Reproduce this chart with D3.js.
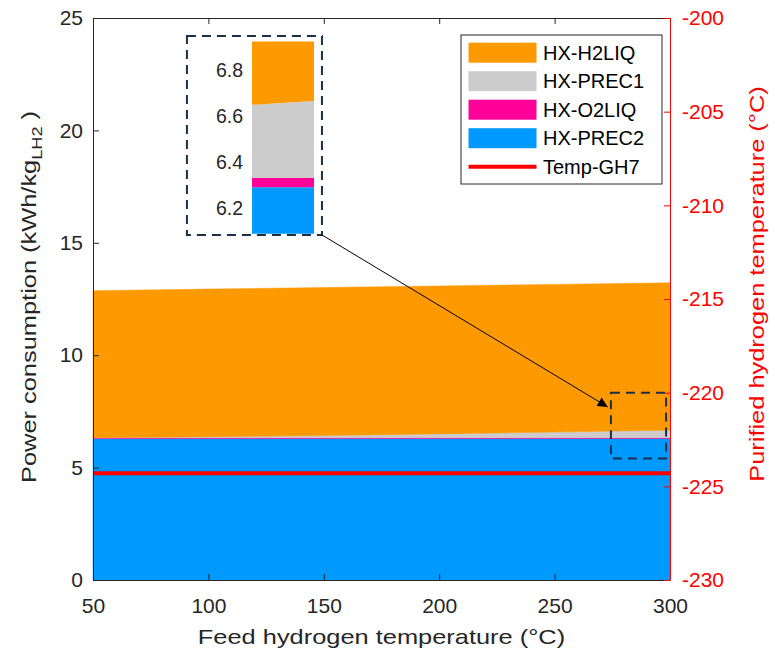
<!DOCTYPE html>
<html>
<head>
<meta charset="utf-8">
<script src="https://cdn.jsdelivr.net/npm/d3@7"></script>
<style>
  html, body { margin: 0; padding: 0; background: #fff; }
  svg { display: block; font-family: "Liberation Sans", Arial, sans-serif; }
</style>
</head>
<body>
<div id="chart"></div>
<script>
// feed hydrogen temperature (°C)
const feedTemp = [50, 100, 150, 200, 250, 300]

// stacked power consumption (kWh/kg LH2), bottom to top
const hxPrec2 = [6.29, 6.29, 6.29, 6.29, 6.29, 6.29]
const hxO2liq = [0.04, 0.04, 0.04, 0.04, 0.04, 0.04]
const hxPrec1 = [0.0, 0.04, 0.1, 0.17, 0.25, 0.335]
const hxH2liq = [6.54, 6.57, 6.58, 6.58, 6.57, 6.555]

// purified hydrogen temperature (°C), right axis
const tempGH7 = [-224.3, -224.3, -224.3, -224.3, -224.3, -224.3]

const seriesKeys = ['HX-PREC2', 'HX-O2LIQ', 'HX-PREC1', 'HX-H2LIQ']
const seriesColors = ['#0099ff', '#ff0099', '#cccccc', '#ff9900']
const legendOrder = ['HX-H2LIQ', 'HX-PREC1', 'HX-O2LIQ', 'HX-PREC2']

const xTicks = [50, 100, 150, 200, 250, 300]
const yTicks = [0, 5, 10, 15, 20, 25]
const yRightTicks = [-230, -225, -220, -215, -210, -205, -200]
const insetTicks = [6.2, 6.4, 6.6, 6.8]

// zoom window (data coords) and inset placement (main data coords)
const zoomBox = { x0: 274.4, x1: 298.3, y0: 5.41, y1: 8.33 }
const insetFrame = { x0: 90.7, x1: 149.2, y0: 15.35, y1: 24.2 }
const insetAxes = { x0: 118.9, x1: 145.8, y0: 15.4, y1: 23.95 }
const insetXDomain = [290, 300]
const insetYDomain = [6.087, 6.923]
const arrowEnd = { x: 273, y: 7.7 }

const width = 775
const height = 655
const margin = { left: 93, right: 105, top: 18, bottom: 75 }
const axisColor = '#262626'
const red = '#ff0000'
const navy = '#1c2e4a'
const tickFont = 21
const titleFont = 21
const titleStretch = 1.21

const rows = feedTemp.map((t, i) => ({
  t,
  'HX-PREC2': hxPrec2[i],
  'HX-O2LIQ': hxO2liq[i],
  'HX-PREC1': hxPrec1[i],
  'HX-H2LIQ': hxH2liq[i],
}))

const stacked = d3.stack().keys(seriesKeys)(rows)

const svg = d3
  .select('#chart')
  .append('svg')
  .attr('width', width)
  .attr('height', height)

const xScale = d3
  .scaleLinear()
  .domain([50, 300])
  .range([margin.left, width - margin.right])

const yScale = d3
  .scaleLinear()
  .domain([0, 25])
  .range([height - margin.bottom, margin.top])

const yRightScale = d3
  .scaleLinear()
  .domain([-230, -200])
  .range([height - margin.bottom, margin.top])

const area = d3
  .area()
  .x(d => xScale(d.data.t))
  .y0(d => yScale(d[0]))
  .y1(d => yScale(d[1]))

svg
  .append('g')
  .selectAll('path')
  .data(stacked)
  .join('path')
  .attr('fill', (d, i) => seriesColors[i])
  .attr('stroke', (d, i) => seriesColors[i])
  .attr('stroke-width', 0.5)
  .attr('d', area)

const tempLine = d3
  .line()
  .x((d, i) => xScale(feedTemp[i]))
  .y(d => yRightScale(d))

svg
  .append('path')
  .datum(tempGH7)
  .attr('fill', 'none')
  .attr('stroke', red)
  .attr('stroke-width', 4)
  .attr('d', tempLine)

// axes
function styleAxis(g, color, fontSize) {
  g.select('.domain').attr('stroke', color).attr('stroke-width', 1)
  g.selectAll('.tick line').attr('stroke', color)
  g.selectAll('.tick text')
    .attr('fill', color)
    .attr('font-size', fontSize)
    .attr('font-family', '"Liberation Sans", Arial, sans-serif')
}

const plainNumber = d => String(d)

svg
  .append('g')
  .attr('transform', `translate(0, ${height - margin.bottom})`)
  .call(d3.axisBottom(xScale).tickValues(xTicks).tickSize(-6).tickPadding(18).tickSizeOuter(0).tickFormat(plainNumber))
  .call(g => styleAxis(g, axisColor, tickFont))

svg
  .append('g')
  .attr('transform', `translate(0, ${margin.top})`)
  .call(d3.axisTop(xScale).tickValues(xTicks).tickSize(-6).tickSizeOuter(0).tickFormat(''))
  .call(g => styleAxis(g, axisColor, tickFont))

svg
  .append('g')
  .attr('transform', `translate(${margin.left}, 0)`)
  .call(d3.axisLeft(yScale).tickValues(yTicks).tickSize(-6).tickPadding(10).tickSizeOuter(0).tickFormat(plainNumber))
  .call(g => styleAxis(g, axisColor, tickFont))

svg
  .append('g')
  .attr('transform', `translate(${width - margin.right}, 0)`)
  .call(d3.axisRight(yRightScale).tickValues(yRightTicks).tickSize(-6).tickPadding(12).tickSizeOuter(0).tickFormat(plainNumber))
  .call(g => styleAxis(g, red, tickFont))

// axis titles
svg
  .append('text')
  .attr('transform', `translate(${(margin.left + width - margin.right) / 2}, ${height - 11}) scale(${titleStretch}, 1)`)
  .attr('text-anchor', 'middle')
  .attr('font-size', titleFont)
  .attr('fill', axisColor)
  .text('Feed hydrogen temperature (°C)')

const leftTitle = svg
  .append('text')
  .attr('transform', `translate(36, ${(margin.top + height - margin.bottom) / 2 - 2}) rotate(-90) scale(${titleStretch}, 1)`)
  .attr('text-anchor', 'middle')
  .attr('font-size', titleFont)
  .attr('fill', axisColor)

leftTitle.append('tspan').text('Power consumption (kWh/kg')
leftTitle.append('tspan').attr('dy', 6).attr('font-size', 15).text('LH2')
leftTitle.append('tspan').attr('dy', -6).text(' )')

svg
  .append('text')
  .attr('transform', `translate(764, ${(margin.top + height - margin.bottom) / 2 - 15}) rotate(-90) scale(${titleStretch}, 1)`)
  .attr('text-anchor', 'middle')
  .attr('font-size', titleFont)
  .attr('fill', red)
  .text('Purified hydrogen temperature (°C)')

// zoom window on the main plot
svg
  .append('rect')
  .attr('x', xScale(zoomBox.x0))
  .attr('y', yScale(zoomBox.y1))
  .attr('width', xScale(zoomBox.x1) - xScale(zoomBox.x0))
  .attr('height', yScale(zoomBox.y0) - yScale(zoomBox.y1))
  .attr('fill', 'none')
  .attr('stroke', navy)
  .attr('stroke-width', 2)
  .attr('stroke-dasharray', '9 6')

// inset frame
svg
  .append('rect')
  .attr('x', xScale(insetFrame.x0))
  .attr('y', yScale(insetFrame.y1))
  .attr('width', xScale(insetFrame.x1) - xScale(insetFrame.x0))
  .attr('height', yScale(insetFrame.y0) - yScale(insetFrame.y1))
  .attr('fill', '#fff')
  .attr('stroke', navy)
  .attr('stroke-width', 2)
  .attr('stroke-dasharray', '9 6')

// arrow
const defs = svg.append('defs')
defs
  .append('marker')
  .attr('id', 'arrowhead')
  .attr('viewBox', '0 0 10 10')
  .attr('refX', 10)
  .attr('refY', 5)
  .attr('markerWidth', 12)
  .attr('markerHeight', 10)
  .attr('markerUnits', 'userSpaceOnUse')
  .attr('orient', 'auto')
  .append('path')
  .attr('d', 'M0,0 L10,5 L0,10 Z')
  .attr('fill', '#000')

svg
  .append('line')
  .attr('x1', xScale(insetFrame.x1))
  .attr('y1', yScale(insetFrame.y0))
  .attr('x2', xScale(arrowEnd.x))
  .attr('y2', yScale(arrowEnd.y))
  .attr('stroke', '#000')
  .attr('stroke-width', 1)
  .attr('marker-end', 'url(#arrowhead)')

// inset axes
const insetX = d3
  .scaleLinear()
  .domain(insetXDomain)
  .range([xScale(insetAxes.x0), xScale(insetAxes.x1)])

const insetY = d3
  .scaleLinear()
  .domain(insetYDomain)
  .range([yScale(insetAxes.y0), yScale(insetAxes.y1)])

defs
  .append('clipPath')
  .attr('id', 'inset-clip')
  .append('rect')
  .attr('x', insetX.range()[0])
  .attr('y', insetY.range()[1])
  .attr('width', insetX.range()[1] - insetX.range()[0])
  .attr('height', insetY.range()[0] - insetY.range()[1])

const insetArea = d3
  .area()
  .x(d => insetX(d.data.t))
  .y0(d => insetY(d[0]))
  .y1(d => insetY(d[1]))

svg
  .append('g')
  .attr('clip-path', 'url(#inset-clip)')
  .selectAll('path')
  .data(stacked)
  .join('path')
  .attr('fill', (d, i) => seriesColors[i])
  .attr('d', insetArea)

svg
  .append('g')
  .attr('transform', `translate(${insetX.range()[0]}, 0)`)
  .call(d3.axisLeft(insetY).tickValues(insetTicks).tickSize(0).tickPadding(9).tickFormat(d3.format('.1f')))
  .call(g => g.select('.domain').remove())
  .call(g =>
    g.selectAll('.tick text')
      .attr('fill', axisColor)
      .attr('font-size', 19.5)
      .attr('font-family', '"Liberation Sans", Arial, sans-serif'),
  )

// legend
const legend = svg.append('g').attr('transform', 'translate(461, 35)')

legend
  .append('rect')
  .attr('width', 201)
  .attr('height', 149)
  .attr('fill', '#fff')
  .attr('stroke', axisColor)
  .attr('stroke-width', 1)

const legendItems = legendOrder.map(key => ({
  label: key,
  color: seriesColors[seriesKeys.indexOf(key)],
  line: false,
}))
legendItems.push({ label: 'Temp-GH7', color: red, line: true })

legendItems.forEach((item, i) => {
  const cy = 17.7 + i * 28.5
  if (item.line) {
    legend
      .append('line')
      .attr('x1', 7.5)
      .attr('x2', 75.5)
      .attr('y1', cy)
      .attr('y2', cy)
      .attr('stroke', item.color)
      .attr('stroke-width', 4)
  } else {
    legend
      .append('rect')
      .attr('x', 7.5)
      .attr('y', cy - 10)
      .attr('width', 68)
      .attr('height', 20)
      .attr('fill', item.color)
  }
  legend
    .append('text')
    .attr('x', 82)
    .attr('y', cy)
    .attr('dy', '0.35em')
    .attr('font-size', 20)
    .attr('fill', '#000')
    .text(item.label)
})
</script>
</body>
</html>
